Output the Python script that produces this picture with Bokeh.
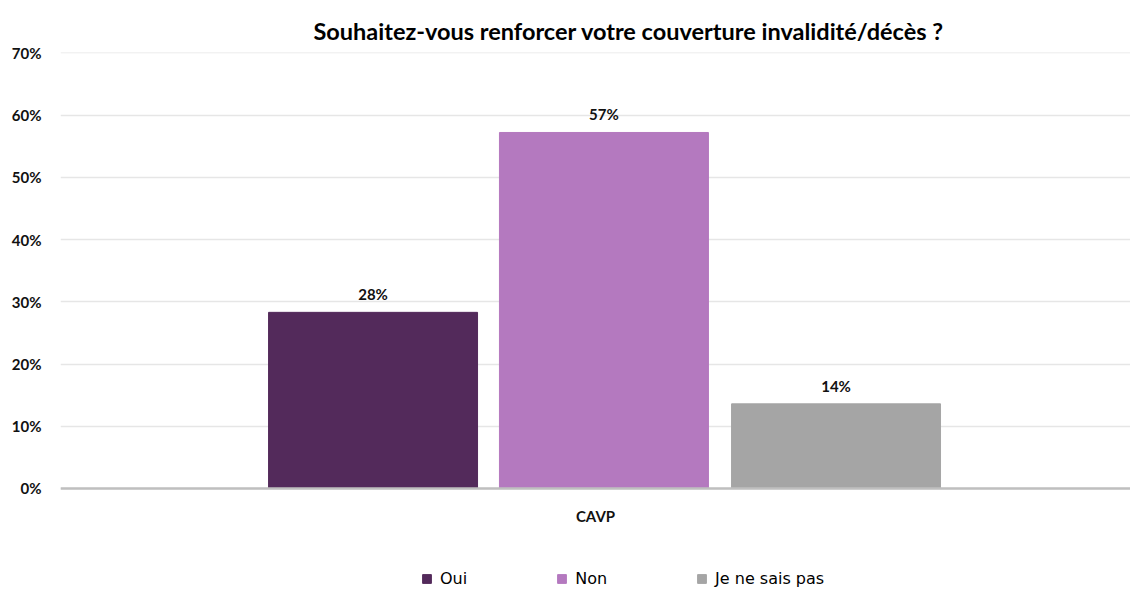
from bokeh.plotting import figure
from bokeh.models import (FactorRange, Range1d, NumeralTickFormatter, FixedTicker,
                          Legend, LegendItem)
from bokeh.transform import dodge
from bokeh.core.properties import value
from bokeh.embed import file_html
from bokeh.resources import INLINE

# ---- data ----
group = ["CAVP"]
categories = ["Oui", "Non", "Je ne sais pas"]
shares = [0.283, 0.572, 0.136]
share_labels = ["28%", "57%", "14%"]
y_ticks = [0.0, 0.1, 0.2, 0.3, 0.4, 0.5, 0.6, 0.7]
colors = ["#532A5B", "#B479BF", "#A5A5A5"]
offsets = [-0.2079, 0.0079, 0.2248]

TITLE = "Souhaitez-vous renforcer votre couverture invalidité/décès ?"

# the frame runs down to the canvas bottom so the legend can sit below the 0% axis
p = figure(width=1130, height=588, x_range=FactorRange(*group), y_range=Range1d(-0.1607, 0.7005),
           output_backend="svg", toolbar_location=None,
           min_border_left=60, min_border_right=0, min_border_top=52, min_border_bottom=0)

p.title.text = TITLE
p.title.align = "left"
p.title.offset = 253
p.title.text_font = "Lato"
p.title.text_font_size = "23.5px"
p.title.text_font_style = "bold"
p.title.text_color = "#000000"
p.title.standoff = 15

p.outline_line_color = None
p.background_fill_color = "white"
p.border_fill_color = "white"

items = []
for i, cat in enumerate(categories):
    src = dict(x=group, top=[shares[i]], lab=[share_labels[i]])
    r = p.vbar(x=dodge("x", offsets[i], range=p.x_range), top="top", width=0.1953,
               source=src, fill_color=colors[i], line_color=colors[i], line_width=1)
    p.text(x=dodge("x", offsets[i], range=p.x_range), y="top", text="lab", source=src,
           text_align="center", text_baseline="middle", y_offset=-18,
           text_font=value("Lato"), text_font_size="15px", text_font_style="bold",
           text_color="#111111")
    items.append(LegendItem(label=cat, renderers=[r]))

legend = Legend(items=items, orientation="horizontal", location=(361, 0),
                glyph_width=11, glyph_height=11, label_standoff=8, spacing=89,
                padding=0, margin=0, border_line_color=None, background_fill_alpha=0,
                label_text_font="DejaVu Sans", label_text_font_size="16px",
                label_text_color="#000000", label_height=20)
p.add_layout(legend, "center")

# axes
p.yaxis.ticker = FixedTicker(ticks=y_ticks)
p.yaxis.formatter = NumeralTickFormatter(format="0%")
p.yaxis.axis_line_color = None
p.yaxis.major_tick_line_color = None
p.yaxis.minor_tick_line_color = None
p.yaxis.major_label_standoff = 13
p.yaxis.major_label_text_font = "Lato"
p.yaxis.major_label_text_font_size = "15px"
p.yaxis.major_label_text_font_style = "bold"
p.yaxis.major_label_text_color = "#111111"

p.xaxis.fixed_location = 0
p.xaxis.axis_line_color = "#BFBFBF"
p.xaxis.axis_line_width = 2.5
p.xaxis.major_tick_line_color = None
p.xaxis.minor_tick_line_color = None
p.xaxis.major_label_standoff = 13
p.xaxis.major_label_text_font = "Lato"
p.xaxis.major_label_text_font_size = "15px"
p.xaxis.major_label_text_font_style = "bold"
p.xaxis.major_label_text_color = "#111111"

p.xgrid.grid_line_color = None
p.ygrid.grid_line_color = "#E6E6E6"
p.ygrid.grid_line_width = 1.5

open("out.html", "w").write(file_html(p, INLINE))
